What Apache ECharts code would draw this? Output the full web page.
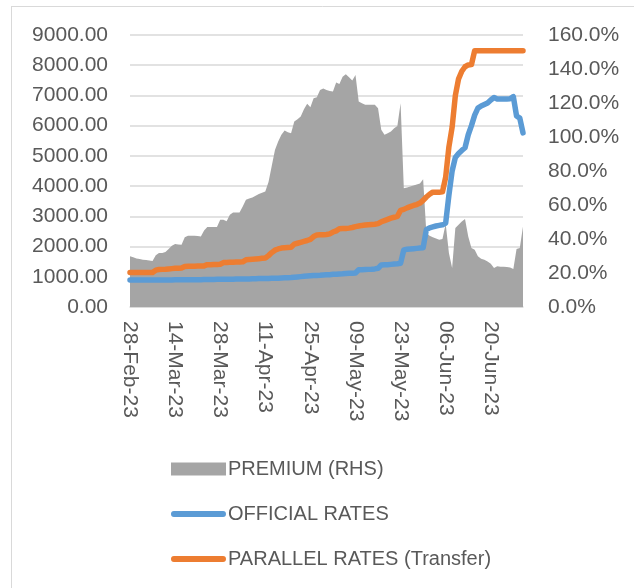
<!DOCTYPE html>
<html>
<head>
<meta charset="utf-8">
<script src="https://cdn.jsdelivr.net/npm/echarts@6/dist/echarts.min.js"></script>
<style>
html,body{margin:0;padding:0;background:#fff;}
#c{width:634px;height:588px;}
</style>
</head>
<body>
<div id="c"></div>
<script>
const months = ['Feb','Mar','Apr','May','Jun'];
const monthDays = [[28,28],[1,31],[1,30],[1,31],[1,30]];
const dates = [];
for (let m = 0; m < months.length; m++) {
  for (let d = monthDays[m][0]; d <= monthDays[m][1]; d++) {
    dates.push((d < 10 ? '0' + d : '' + d) + '-' + months[m] + '-23');
  }
}

const seriesNames = ['PREMIUM (RHS)', 'OFFICIAL RATES', 'PARALLEL RATES (Transfer)'];

const official = [
890,890,890,890,890,890,890,890,890,890,
895,895,895,895,900,900,900,900,900,905,
905,905,905,910,910,910,910,915,915,915,
920,920,920,925,925,925,930,930,935,935,
940,940,945,945,950,950,955,960,965,970,
975,985,995,1005,1015,1025,1035,1040,1045,1050,
1060,1065,1070,1080,1085,1095,1100,1110,1115,1120,
1125,1230,1235,1240,1245,1250,1260,1280,1390,1400,
1400,1410,1420,1430,1450,1890,1910,1920,1930,1940,
1950,1960,2560,2620,2650,2680,2700,2720,2780,3700,
4500,4950,5080,5180,5270,5700,6000,6350,6580,6650,
6700,6750,6850,6930,6880,6880,6880,6885,6890,6960,
6320,6250,5760
];

const parallel = [
1145,1145,1145,1145,1145,1145,1145,1145,1220,1240,
1245,1250,1260,1270,1280,1285,1290,1340,1345,1350,
1350,1355,1360,1360,1400,1400,1405,1410,1415,1470,
1475,1480,1480,1485,1490,1495,1560,1570,1580,1590,
1600,1610,1620,1700,1800,1880,1920,1950,1960,1970,
1975,2080,2110,2140,2170,2200,2240,2330,2380,2390,
2390,2400,2420,2480,2520,2590,2600,2600,2610,2630,
2660,2680,2700,2710,2720,2730,2740,2760,2820,2860,
2900,2940,2970,3000,3200,3230,3280,3320,3360,3390,
3440,3530,3640,3730,3800,3800,3800,3810,4300,5300,
5950,7000,7550,7800,7950,8010,8020,8480,8480,8480,
8480,8480,8480,8480,8480,8480,8480,8480,8480,8480,
8480,8480,8480
];

const premium = [
29.8,29.2,28.6,28.2,27.8,27.6,27.4,27.0,30.5,31.7,
31.7,32.3,34.1,36.0,37.0,36.8,36.6,41.0,41.9,41.9,
41.9,41.7,41.5,45.0,47.0,47.0,47.0,47.0,51.3,51.3,
50.5,54.2,55.6,55.6,55.6,59.1,63.1,63.8,64.4,65.4,
66.4,67.2,68.0,73.6,83.0,92.4,97.3,101.3,103.8,102.8,
102.2,109.1,110.5,112.0,116.3,119.5,117.5,122.8,123.4,127.7,
128.5,127.7,127.1,126.7,132.0,131.2,135.5,136.9,135.1,133.2,
136.5,120.9,119.9,118.9,118.9,118.9,118.9,116.9,104.2,101.3,
102.2,103.2,105.2,106.5,119.9,69.9,70.3,70.9,71.5,72.1,
72.7,75.2,43.5,41.9,41.1,40.3,39.6,40.0,49.0,31.7,
22.9,46.4,48.4,50.3,51.7,41.5,34.7,33.7,29.8,28.4,
27.8,26.8,25.5,22.9,23.9,23.7,23.7,23.5,23.3,22.3,
34.1,34.7,47.4
];

const FONT = 'Liberation Sans';
const TXT = '#595959';
const LINE_ICON = 'path://M3,0 H53 A3,3 0 0 1 53,6 H3 A3,3 0 0 1 3,0 Z';

const chart = echarts.init(document.getElementById('c'));
chart.setOption({
  animation: false,
  backgroundColor: '#fff',
  textStyle: {fontFamily: FONT},
  grid: {left: 130, right: 111, top: 35, bottom: 281, containLabel: false},
  graphic: [
    {type: 'line', shape: {x1: 11, y1: 6.5, x2: 634, y2: 6.5}, style: {stroke: '#d9d9d9', lineWidth: 1}},
    {type: 'line', shape: {x1: 11.5, y1: 6, x2: 11.5, y2: 588}, style: {stroke: '#d9d9d9', lineWidth: 1}}
  ],
  xAxis: {
    type: 'category',
    data: dates,
    boundaryGap: false,
    axisLine: {show: true, lineStyle: {color: '#d9d9d9', width: 1.5}},
    axisTick: {show: false},
    axisLabel: {interval: 13, rotate: -90, margin: 14, color: TXT, fontSize: 21, fontFamily: FONT}
  },
  yAxis: [
    {
      type: 'value', min: 0, max: 9000, interval: 1000,
      axisLine: {show: false}, axisTick: {show: false},
      splitLine: {lineStyle: {color: '#d9d9d9', width: 1.5}},
      axisLabel: {color: TXT, fontSize: 21, fontFamily: FONT, margin: 22,
        formatter: v => v.toFixed(2)}
    },
    {
      type: 'value', min: 0, max: 160, interval: 20,
      axisLine: {show: false}, axisTick: {show: false},
      splitLine: {show: false},
      axisLabel: {color: TXT, fontSize: 21, fontFamily: FONT, margin: 25,
        formatter: v => v.toFixed(1) + '%'}
    }
  ],
  legend: {
    orient: 'vertical',
    left: 166, top: 453,
    itemWidth: 55, itemHeight: 13, itemGap: 23,
    textStyle: {color: TXT, fontSize: 20, fontFamily: FONT, lineHeight: 22, padding: [0, 0, 0, -3]},
    data: [
      {name: seriesNames[0], icon: 'rect',
        itemStyle: {color: '#a5a5a5', borderWidth: 0},
        lineStyle: {width: 11, color: '#a5a5a5', cap: 'butt', opacity: 1}},
      {name: seriesNames[1], icon: LINE_ICON},
      {name: seriesNames[2], icon: LINE_ICON}
    ]
  },
  series: [
    {
      name: seriesNames[0], type: 'line', yAxisIndex: 1, data: premium,
      symbol: 'none', lineStyle: {width: 0, color: '#a5a5a5'},
      itemStyle: {color: '#a5a5a5'},
      areaStyle: {color: '#a5a5a5', opacity: 1}, z: 1
    },
    {
      name: seriesNames[1], type: 'line', yAxisIndex: 0, data: official,
      symbol: 'none', lineStyle: {width: 5.5, color: '#5b9bd5', cap: 'round', join: 'round'},
      itemStyle: {color: '#5b9bd5'}, z: 3
    },
    {
      name: seriesNames[2], type: 'line', yAxisIndex: 0, data: parallel,
      symbol: 'none', lineStyle: {width: 5.5, color: '#ed7d31', cap: 'round', join: 'round'},
      itemStyle: {color: '#ed7d31'}, z: 2
    }
  ]
});
</script>
</body>
</html>
